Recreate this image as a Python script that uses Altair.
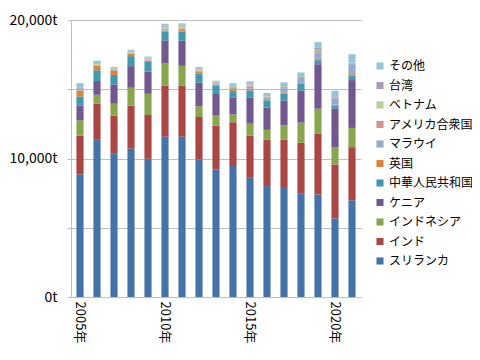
import altair as alt
import pandas as pd

years = [str(y) for y in range(2005, 2022)]
categories = ["スリランカ", "インド", "インドネシア", "ケニア", "中華人民共和国", "英国",
              "マラウイ", "アメリカ合衆国", "ベトナム", "台湾", "その他"]
colors = ["#4572A7", "#AA4643", "#89A54E", "#71588F", "#4198AF", "#DB843D",
          "#93A9CF", "#D19392", "#B9CD96", "#A99BBD", "#92C5D9"]

sri_lanka = [8850, 11350, 10340, 10720, 9980, 11580, 11580, 9930, 9210, 9450, 8610, 8010, 7940, 7460, 7410, 5680, 6980]
india = [2800, 2600, 2760, 3090, 3160, 3670, 3670, 3070, 3165, 3165, 3045, 3360, 3430, 3670, 4365, 3890, 3840]
indonesia = [1100, 650, 860, 1300, 1530, 1650, 1440, 770, 720, 575, 860, 700, 1030, 1460, 1820, 1220, 1390]
kenya = [1080, 1000, 1370, 1560, 1610, 1630, 1820, 1700, 1560, 1220, 1900, 1600, 1775, 2330, 3210, 2830, 3450]
china = [650, 770, 700, 720, 700, 650, 650, 670, 600, 455, 500, 530, 500, 480, 290, 190, 310]
uk = [430, 310, 340, 170, 60, 50, 170, 100, 80, 80, 120, 80, 100, 70, 120, 70, 120]
malawi = [40, 40, 30, 40, 40, 60, 50, 60, 50, 150, 150, 120, 300, 330, 450, 480, 720]
usa = [60, 50, 40, 50, 60, 80, 60, 60, 50, 60, 70, 60, 80, 80, 100, 60, 70]
vietnam = [30, 60, 40, 80, 100, 150, 150, 80, 60, 80, 80, 50, 60, 60, 80, 40, 20]
taiwan = [60, 50, 30, 40, 40, 60, 60, 60, 40, 50, 60, 50, 80, 80, 180, 50, 30]
others = [340, 180, 100, 80, 80, 150, 110, 100, 80, 155, 170, 170, 200, 190, 380, 380, 600]

series = [sri_lanka, india, indonesia, kenya, china, uk, malawi, usa, vietnam, taiwan, others]

rows = []
for ci, (cat, vals) in enumerate(zip(categories, series)):
    for y, v in zip(years, vals):
        rows.append({"year": y, "country": cat, "value": v, "idx": ci})
df = pd.DataFrame(rows)

FONT = "Noto Sans CJK JP"

chart = alt.Chart(df).mark_bar().encode(
    x=alt.X("year:N", sort=years, title=None,
            scale=alt.Scale(paddingInner=0.58, paddingOuter=0.32),
            axis=alt.Axis(values=["2005", "2010", "2015", "2020"],
                          labelExpr="datum.value + '年'",
                          labelAngle=90, labelAlign="left", labelBaseline="middle",
                          labelPadding=4, ticks=False, labelFontSize=13,
                          labelColor="#000000", domainColor="#BFBFBF",
                          labelFont=FONT)),
    y=alt.Y("value:Q", stack="zero", title=None,
            scale=alt.Scale(domain=[0, 20000], nice=False),
            axis=alt.Axis(values=[0, 5000, 10000, 15000, 20000],
                          labelExpr="datum.value % 10000 == 0 ? format(datum.value, ',') + 't' : ''",
                          labelFontSize=14, labelColor="#000000", labelFont=FONT,
                          tickSize=4, tickColor="#BFBFBF", gridColor="#BFBFBF",
                          domainColor="#BFBFBF", labelPadding=10)),
    color=alt.Color("country:N",
                    scale=alt.Scale(domain=categories[::-1], range=colors[::-1]),
                    sort=categories[::-1],
                    legend=alt.Legend(title=None, orient="none", legendX=303, legendY=40,
                                      symbolType="square", symbolSize=50,
                                      symbolStrokeWidth=0, labelFontSize=12,
                                      labelFont=FONT, labelColor="#000000",
                                      labelLimit=200,
                                      rowPadding=7.5, labelOffset=3)),
    order=alt.Order("idx:Q", sort="ascending"),
).properties(
    width=290, height=277,
    autosize=alt.AutoSizeParams(type="none"),
    padding={"left": 63, "top": 12, "right": 111, "bottom": 50},
).configure_view(stroke=None)

chart.save("out.html", embed_options={"renderer": "svg", "actions": False})
